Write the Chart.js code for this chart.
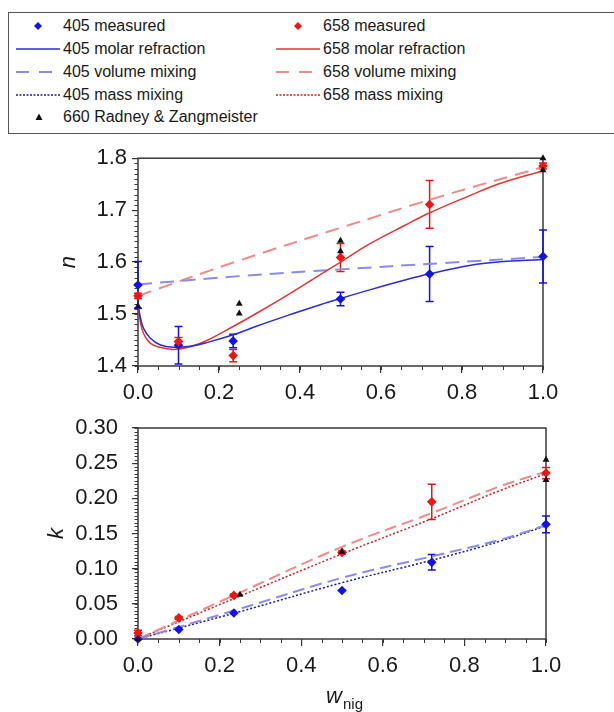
<!DOCTYPE html>
<html>
<head>
<meta charset="utf-8">
<script src="https://cdn.jsdelivr.net/npm/chart.js@4.4.1/dist/chart.umd.min.js"></script>
<style>
  body { margin: 0; background: #fff; width: 614px; height: 712px; overflow: hidden; position: relative;
         font-family: 'Liberation Sans', Arial, sans-serif; color: #1a1a1a; }
  #legendBox { position: absolute; left: 8px; top: 12px; width: 620px; height: 122px;
               border: 1.5px solid #555; box-sizing: border-box; }
  .lg { position: absolute; font-size: 16px; line-height: 16px; white-space: nowrap; }
  .lgs { position: absolute; }
  canvas { position: absolute; left: 0; }
  .xt { position: absolute; white-space: nowrap; }
</style>
</head>
<body>
<div id="legendBox"></div>
<canvas id="nChart" width="614" height="270" style="top:140px"></canvas>
<canvas id="kChart" width="614" height="312" style="top:400px"></canvas>
<div class="xt" style="left:326px;top:685px;font:italic 22px/22px 'Liberation Sans';">w</div>
<div class="xt" style="left:343px;top:696px;font:15px/15px 'Liberation Sans';">nig</div>
<script>
// measured points (same w_nig for both wavelengths)
const wNig = [0, 0.1, 0.235, 0.5, 0.72, 1.0];
const n405 = [1.556, 1.440, 1.448, 1.529, 1.577, 1.611];
const n405Err = [0.045, 0.036, 0.013, 0.013, 0.053, 0.051];
const n658 = [1.535, 1.447, 1.420, 1.609, 1.711, 1.785];
const n658Err = [0.005, 0.008, 0.012, 0.027, 0.046, 0.006];
const k405 = [0.0, 0.0135, 0.037, 0.069, 0.109, 0.163];
const k405Err = [0, 0, 0, 0, 0.011, 0.012];
const k658 = [0.0085, 0.030, 0.062, 0.123, 0.195, 0.236];
const k658Err = [0.004, 0.002, 0.002, 0.002, 0.025, 0.008];

// Radney & Zangmeister 660 nm
const rzW = [0, 0.25, 0.25, 0.5, 0.5, 1.0, 1.0];
const rzN = [1.515, 1.520, 1.501, 1.641, 1.621, 1.800, 1.777];
const rzKW = [0, 0.25, 0.5, 1.0, 1.0];
const rzK = [0.0, 0.063, 0.124, 0.255, 0.226];

// molar refraction curves (n)
const molarW = [0, 0.006, 0.014, 0.03, 0.054, 0.087, 0.129, 0.17, 0.235, 0.294, 0.376, 0.45, 0.5, 0.574, 0.657, 0.718, 0.822, 0.888, 1.0];
const molar405 = [1.519, 1.493, 1.472, 1.454, 1.441, 1.436, 1.438, 1.445, 1.460, 1.477, 1.499, 1.518, 1.530, 1.547, 1.565, 1.577, 1.594, 1.600, 1.605];
const molar658 = [1.520, 1.484, 1.462, 1.444, 1.436, 1.432, 1.437, 1.449, 1.476, 1.502, 1.540, 1.576, 1.600, 1.636, 1.670, 1.694, 1.729, 1.750, 1.776];

// volume mixing (n)
const volW = [0, 0.25, 0.5, 0.75, 1.0];
const vol405n = [1.557, 1.573, 1.586, 1.598, 1.610];
const vol658n = [1.535, 1.603, 1.666, 1.727, 1.783];

// volume / mass mixing (k)
const mixW = [0, 0.25, 0.5, 0.72, 0.887, 1.0];
const vol405k = [0, 0.043, 0.087, 0.1175, 0.141, 0.162];
const mass405k = [0, 0.039, 0.080, 0.112, 0.139, 0.161];
const vol658k = [0, 0.066, 0.131, 0.179, 0.217, 0.238];
const mass658k = [0, 0.061, 0.121, 0.171, 0.211, 0.235];

const nTicks = [1.4, 1.8, 0.1, 0.01];
const kTicks = [0, 0.30, 0.05, 0.005];

const BLUE = '#1212e6', RED = '#ee1515', BLACK = '#111';
const BLUE_SOLID = '#2b2bd8', RED_SOLID = '#e43535';
const BLUE_DASH = '#8a8af2', RED_DASH = '#f28a8a';
const BLUE_DOT = '#1c1c90', RED_DOT = '#cc2020';
const FONT = 'Liberation Sans';

function pts(xs, ys) { return xs.map((x, i) => ({ x, y: ys[i] })); }

function markers(label, xs, ys, color, style, r, errs) {
  return { label, data: pts(xs, ys), showLine: false, pointStyle: style, pointRadius: r,
           pointBackgroundColor: color, pointBorderColor: color, pointBorderWidth: 0,
           borderColor: color, errors: errs, clip: false, order: 0 };
}
function curve(label, xs, ys, color, dash, width) {
  return { label, data: pts(xs, ys), showLine: true, pointRadius: 0, borderColor: color,
           borderWidth: width, borderDash: dash, tension: 0.4,
           fill: false, order: 5 };
}

const errorBars = {
  id: 'errorBars',
  beforeDatasetsDraw(chart) {
    const { ctx } = chart;
    const ys = chart.scales.y;
    chart.data.datasets.forEach((ds, i) => {
      if (!ds.errors) return;
      const meta = chart.getDatasetMeta(i);
      ctx.save();
      ctx.strokeStyle = ds.borderColor;
      ctx.lineWidth = 1.5;
      meta.data.forEach((pt, j) => {
        const e = ds.errors[j];
        if (!e) return;
        const v = ds.data[j].y;
        const t = ys.getPixelForValue(v + e), b = ys.getPixelForValue(v - e);
        ctx.beginPath();
        ctx.moveTo(pt.x, t); ctx.lineTo(pt.x, b);
        ctx.moveTo(pt.x - 4, t); ctx.lineTo(pt.x + 4, t);
        ctx.moveTo(pt.x - 4, b); ctx.lineTo(pt.x + 4, b);
        ctx.stroke();
      });
      ctx.restore();
    });
  }
};

const frame = {
  id: 'frame',
  beforeDatasetsDraw(chart, args, opts) {
    const { ctx, chartArea: a, scales: { x, y } } = chart;
    ctx.save();
    ctx.strokeStyle = '#3a3a3a';
    ctx.lineWidth = 1.5;
    ctx.strokeRect(a.left, a.top, a.right - a.left, a.bottom - a.top);
    ctx.lineWidth = 1;
    ctx.beginPath();
    for (let v = x.min; v <= x.max + 1e-9; v += 0.05) {
      const px = Math.round(x.getPixelForValue(v)) + 0.5;
      ctx.moveTo(px, a.bottom); ctx.lineTo(px, a.bottom + 4);
    }
    for (let v = y.min; v <= y.max + 1e-9; v += opts.yMinor) {
      const py = Math.round(y.getPixelForValue(v)) + 0.5;
      ctx.moveTo(a.left - 3.5, py); ctx.lineTo(a.left, py);
    }
    ctx.stroke();
    ctx.restore();
  }
};

function options(ticks, yTitle, titlePad, yLabelPad, yDigits, pad) {
  return {
    responsive: false,
    animation: false,
    layout: { padding: pad },
    plugins: { legend: { display: false }, tooltip: { enabled: false }, frame: { yMinor: ticks[3] } },
    scales: {
      x: {
        type: 'linear', min: 0, max: 1,
        ticks: { stepSize: 0.2, padding: 7, color: '#1a1a1a', font: { family: FONT, size: 22 },
                 callback: v => v.toFixed(1) },
        grid: { drawOnChartArea: false, tickLength: 7, color: '#333', lineWidth: 1.2 },
        border: { display: false },
        afterFit: s => { s.height = 44; }
      },
      y: {
        type: 'linear', min: ticks[0], max: ticks[1],
        ticks: { stepSize: ticks[2], padding: yLabelPad, color: '#1a1a1a', font: { family: FONT, size: 22 },
                 callback: v => v.toFixed(yDigits) },
        grid: { drawOnChartArea: false, tickLength: 6, color: '#333', lineWidth: 1.2 },
        border: { display: false },
        title: { display: true, text: yTitle, color: '#1a1a1a', padding: { top: titlePad, bottom: 0 },
                 font: { family: FONT, size: 22, style: 'italic' } },
        afterFit: s => { s.width = 138; }
      }
    }
  };
}

new Chart(document.getElementById('nChart'), {
  type: 'scatter',
  data: {
    datasets: [
      markers('660 Radney & Zangmeister', rzW, rzN, BLACK, 'triangle', 4),
      markers('658 measured', wNig, n658, RED, 'rectRot', 4.8, n658Err),
      markers('405 measured', wNig, n405, BLUE, 'rectRot', 4.8, n405Err),
      curve('405 molar refraction', molarW, molar405, BLUE_SOLID, [], 1.5),
      curve('658 molar refraction', molarW, molar658, RED_SOLID, [], 1.5),
      curve('405 volume mixing', volW, vol405n, BLUE_DASH, [14, 8], 2),
      curve('658 volume mixing', volW, vol658n, RED_DASH, [14, 8], 2)
    ]
  },
  options: options(nTicks, 'n', 56, 5, 1, { left: 0, right: 71, top: 12, bottom: 0 }),
  plugins: [frame, errorBars]
});

new Chart(document.getElementById('kChart'), {
  type: 'scatter',
  data: {
    datasets: [
      markers('660 Radney & Zangmeister', rzKW, rzK, BLACK, 'triangle', 4),
      markers('658 measured', wNig, k658, RED, 'rectRot', 4.8, k658Err),
      markers('405 measured', wNig, k405, BLUE, 'rectRot', 4.8, k405Err),
      curve('405 volume mixing', mixW, vol405k, BLUE_DASH, [12, 6], 2),
      curve('405 mass mixing', mixW, mass405k, BLUE_DOT, [2, 2], 1.5),
      curve('658 volume mixing', mixW, vol658k, RED_DASH, [12, 6], 2),
      curve('658 mass mixing', mixW, mass658k, RED_DOT, [2, 2], 1.5)
    ]
  },
  options: options(kTicks, 'k', 44, 14, 2, { left: 0, right: 68, top: 28, bottom: 29 }),
  plugins: [frame, errorBars]
});

// shared legend
const legendRows = [31.7, 54.5, 77.3, 100, 122.8];
const legendCols = [16, 276];
const legendItems = [
  ['405 measured', 'diamond', BLUE, 0, 0],
  ['658 measured', 'diamond', RED, 1, 0],
  ['405 molar refraction', 'solid', BLUE_SOLID, 0, 1],
  ['658 molar refraction', 'solid', RED_SOLID, 1, 1],
  ['405 volume mixing', 'dash', BLUE_DASH, 0, 2],
  ['658 volume mixing', 'dash', RED_DASH, 1, 2],
  ['405 mass mixing', 'dot', BLUE_DOT, 0, 3],
  ['658 mass mixing', 'dot', RED_DOT, 1, 3],
  ['660 Radney & Zangmeister', 'triangle', BLACK, 0, 4]
];
legendItems.forEach(([text, kind, color, col, row]) => {
  const base = legendRows[row];
  const left = legendCols[col];
  const svgNS = 'http://www.w3.org/2000/svg';
  const svg = document.createElementNS(svgNS, 'svg');
  svg.setAttribute('width', 44); svg.setAttribute('height', 12);
  svg.setAttribute('class', 'lgs');
  svg.style.left = left + 'px';
  svg.style.top = (base - 5.5 - 6) + 'px';
  let shape;
  if (kind === 'diamond') {
    shape = document.createElementNS(svgNS, 'polygon');
    shape.setAttribute('points', '22,2 26,6 22,10 18,6');
    shape.setAttribute('fill', color);
  } else if (kind === 'triangle') {
    shape = document.createElementNS(svgNS, 'polygon');
    shape.setAttribute('points', '23,2.5 26.5,9 19.5,9');
    shape.setAttribute('fill', color);
  } else {
    shape = document.createElementNS(svgNS, 'line');
    shape.setAttribute('x1', 0); shape.setAttribute('x2', 44);
    shape.setAttribute('y1', 6); shape.setAttribute('y2', 6);
    shape.setAttribute('stroke', color);
    shape.setAttribute('stroke-width', kind === 'dot' ? 1.3 : (kind === 'dash' ? 2 : 1.5));
    if (kind === 'dash') shape.setAttribute('stroke-dasharray', '13 10');
    if (kind === 'dot') shape.setAttribute('stroke-dasharray', '2 1.5');
  }
  svg.appendChild(shape);
  document.body.appendChild(svg);
  const t = document.createElement('div');
  t.className = 'lg';
  t.textContent = text;
  t.style.left = (left + 47) + 'px';
  t.style.top = (base - 13.5) + 'px';
  document.body.appendChild(t);
});
</script>
</body>
</html>
